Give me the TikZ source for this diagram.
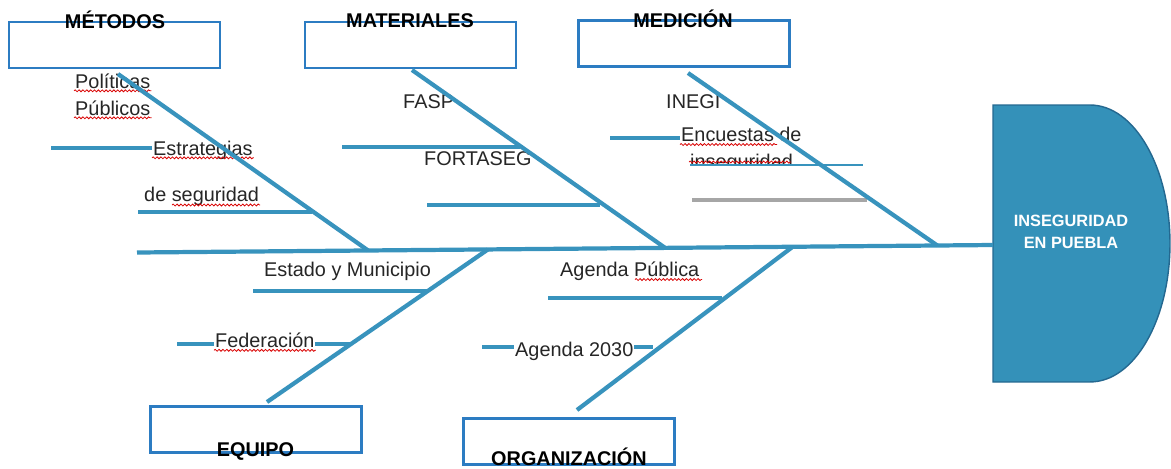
\documentclass[tikz,border=0pt]{standalone}
\usepackage{fontspec}
\setmainfont{Liberation Sans}
\usepackage{xcolor}
\usepackage{tikz}
\usetikzlibrary{positioning,calc,decorations.pathmorphing}

\definecolor{bonecol}{RGB}{56,147,189}
\definecolor{boxline}{RGB}{44,124,194}
\definecolor{headfill}{RGB}{52,145,185}
\definecolor{headline}{RGB}{36,104,144}

\tikzset{
  bone/.style={line width=2.4pt,bonecol},
  groupbox/.style={draw=boxline,line width=1.5pt,minimum width=4.22cm,minimum height=0.92cm,inner sep=0pt},
  grouptext/.style={font=\fontsize{11.3}{13}\selectfont\bfseries,anchor=base,inner sep=0pt},
  cause/.style={font=\fontsize{11.3}{13}\selectfont,anchor=base west,fill=white,inner sep=0.5pt,text=black!85},
  squiggle/.style={red!85!black,line width=0.45pt,decorate,decoration={snake,amplitude=0.55pt,segment length=2.2pt}}
}

\begin{document}
\begin{tikzpicture}[x=0.02cm,y=-0.02cm]
\useasboundingbox (0,0) rectangle (1171,468);
% Head
\draw[fill=headfill,draw=headline,line width=0.8pt] (993,105) -- (1090,105)
  arc[start angle=90,end angle=-90,x radius=1.6cm,y radius=2.77cm] -- (993,382) -- cycle;
\node[font=\fontsize{9.3}{12.3}\selectfont\bfseries,text=white,align=center] (prob) at (1071,232) {INSEGURIDAD\\EN PUEBLA};
% Group boxes
\node[groupbox] (met) at (114.5,45) {};
\node[groupbox] (mat) at (410.5,45) {};
\node[groupbox] (med) at (684,43.5) {};
\node[groupbox] (equ) at (256,429.5) {};
\node[groupbox] (org) at (569,441.5) {};
\node[grouptext] (metlab) at (115,28) {MÉTODOS};
\node[grouptext] (matlab) at (410,27) {MATERIALES};
\node[grouptext] (medlab) at (683,27) {MEDICIÓN};
\node[grouptext] (equlab) at (255.5,456) {EQUIPO};
\node[grouptext] (orglab) at (569,465) {ORGANIZACIÓN};
% Sub-bones
\foreach \xa/\xb/\y in {51/225/148, 138/312/212, 342/520/147, 427/600/205, 610/783/138,
  253/427/291, 177/350/344, 548/722/298, 482/653/347}
  \draw[bone] (\xa,\y) -- (\xb,\y);
\draw[line width=2.3pt,gray!70] (692,200) -- (867,200);
% Causes
\node[cause] (pol) at (74,88) {Políticas};
\node[cause] (pub) at (74,115) {Públicos};
\node[cause] (est) at (152,155) {Estrategias};
\node[cause] (seg) at (143,201.5) {de seguridad};
\node[cause] (fasp) at (402,108) {FASP};
\node[cause] (fort) at (423,165) {FORTASEG};
\node[cause] (inegi) at (665,108) {INEGI};
\node[cause] (enc) at (680,141) {Encuestas de};
\begin{scope}
  \clip (680,145) rectangle (870,164.5);
  \node[cause] (ins) at (689,168) {inseguridad};
  \draw[squiggle] (689,162) -- (791,162);
\end{scope}
\draw[bonecol,line width=0.6pt] (690,165) -- (863,165);
\node[cause] (edo) at (263,276) {Estado y Municipio};
\node[cause] (fed) at (214,347.5) {Federación};
\node[cause] (agp) at (559,276) {Agenda Pública};
\node[cause] (ag30) at (514,356.5) {Agenda 2030};
% Spell-check marks
\foreach \n in {pol,pub,est,fed}
  \draw[squiggle] ([yshift=-1.6pt]\n.base west) -- ([yshift=-1.6pt]\n.base east);
\draw[squiggle] (172,205) -- (260,205);
\draw[squiggle] (680,144.5) -- (777,144.5);
\draw[squiggle] (635,279.5) -- (702,279.5);
% Spine
\coordinate (tail) at (137,252.5);
\coordinate (head) at (993,245);
\draw[bone] (tail) -- (head);
% Main bones
\coordinate (jmet) at ($(tail)!0.27!(head)$);
\coordinate (jmat) at ($(tail)!0.617!(head)$);
\coordinate (jmed) at ($(tail)!0.935!(head)$);
\coordinate (jequ) at ($(tail)!0.41!(head)$);
\coordinate (jorg) at ($(tail)!0.766!(head)$);
\coordinate (bmet) at (118,74);
\coordinate (bmat) at (412,70);
\coordinate (bmed) at (688,73);
\coordinate (bequ) at (267,402);
\coordinate (borg) at (577,410);
\foreach \a/\b in {bmet/jmet, bmat/jmat, bmed/jmed, bequ/jequ, borg/jorg}
  \draw[bone] (\a) -- (\b);
\end{tikzpicture}
\end{document}
